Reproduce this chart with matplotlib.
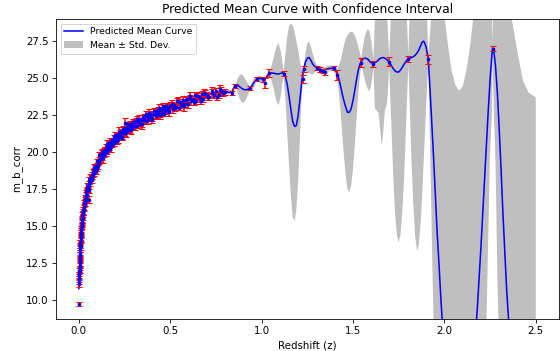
import numpy as np
import matplotlib
matplotlib.use("Agg")
import matplotlib.pyplot as plt

# ---------------- observed supernovae (redshift, m_b_corr, error) ----------------
z_low = [0.0015, 0.0026, 0.0028, 0.003, 0.0032, 0.0035, 0.0038, 0.0041, 0.0045, 0.0049,
         0.0053, 0.0057, 0.0062, 0.0067, 0.0072, 0.0078, 0.0084, 0.009, 0.0097, 0.0105,
         0.0113, 0.0121, 0.013, 0.014, 0.015, 0.016, 0.0172, 0.0185, 0.0198, 0.0212,
         0.0227, 0.0243, 0.026, 0.0278, 0.0296]
m_low = [9.78, 11.1, 11.5, 11.3, 11.8, 11.7, 12.2, 12.0, 12.5, 12.4,
         12.9, 12.7, 13.2, 13.1, 13.6, 13.4, 13.9, 13.7, 14.2, 14.1,
         14.5, 14.4, 14.9, 14.7, 15.1, 15.0, 15.4, 15.3, 15.8, 15.6,
         16.0, 15.9, 16.3, 16.2, 16.6]
e_low = [0.15, 0.16, 0.14, 0.18, 0.15, 0.2, 0.13, 0.17, 0.15, 0.19,
         0.14, 0.16, 0.18, 0.15, 0.21, 0.14, 0.17, 0.15, 0.19, 0.16,
         0.14, 0.18, 0.15, 0.2, 0.13, 0.17, 0.16, 0.19, 0.14, 0.18,
         0.15, 0.16, 0.2, 0.14, 0.17]

z_low2 = [0.0034, 0.0043, 0.0055, 0.0069, 0.0081, 0.0094, 0.011, 0.0135, 0.0165, 0.019,
          0.022, 0.025, 0.032, 0.038, 0.046, 0.054, 0.063, 0.072, 0.083, 0.093]
m_low2 = [12.01, 12.07, 13.1, 13.05, 13.85, 13.66, 14.58, 14.53, 15.49, 15.25,
          16.03, 15.81, 16.88, 16.8, 17.73, 17.49, 18.3, 18.15, 19.0, 18.74]
e_low2 = [0.2, 0.22, 0.18, 0.25, 0.2, 0.23, 0.19, 0.24, 0.21, 0.2,
          0.26, 0.2, 0.22, 0.24, 0.19, 0.25, 0.21, 0.23, 0.2, 0.22]

z_mid = [0.031, 0.033, 0.035, 0.037, 0.039, 0.041, 0.043, 0.045, 0.047, 0.049,
         0.051, 0.053, 0.055, 0.058, 0.058, 0.061, 0.064, 0.067, 0.07, 0.073,
         0.076, 0.079, 0.082, 0.085, 0.088, 0.091, 0.094, 0.097]
m_mid = [16.5, 16.8, 16.7, 17.1, 16.9, 17.3, 17.1, 17.5, 17.4, 17.7,
         17.5, 17.9, 17.7, 18.1, 16.8, 17.9, 18.3, 18.1, 18.5, 18.3,
         18.7, 18.5, 18.8, 18.6, 19.0, 18.8, 19.1, 18.9]
e_mid = [0.14, 0.17, 0.13, 0.19, 0.15, 0.16, 0.2, 0.14, 0.17, 0.13,
         0.18, 0.15, 0.16, 0.21, 0.22, 0.14, 0.17, 0.15, 0.19, 0.13,
         0.16, 0.18, 0.14, 0.2, 0.15, 0.17, 0.13, 0.16]

z_sdss = [0.102, 0.106, 0.109, 0.113, 0.117, 0.12, 0.124, 0.128, 0.131, 0.135,
          0.139, 0.142, 0.146, 0.15, 0.153, 0.157, 0.161, 0.164, 0.168, 0.172,
          0.175, 0.179, 0.183, 0.186, 0.19, 0.194, 0.197, 0.201, 0.205, 0.208,
          0.212, 0.216, 0.219, 0.223, 0.227, 0.23, 0.234, 0.238, 0.241, 0.245,
          0.249, 0.252, 0.255, 0.256, 0.26, 0.263, 0.267, 0.271, 0.274, 0.278,
          0.282, 0.285, 0.289, 0.293, 0.296, 0.3]
m_sdss = [19.42, 19.24, 19.51, 19.32, 19.80, 19.60, 20.00, 19.70, 19.90, 20.10,
          19.82, 20.17, 20.08, 20.40, 20.07, 20.38, 20.27, 20.63, 20.22, 20.65,
          20.57, 20.49, 20.84, 20.66, 21.05, 20.62, 20.96, 20.79, 21.01, 21.18,
          20.82, 21.17, 21.09, 21.36, 21.06, 21.36, 21.03, 21.39, 21.51, 21.30,
          21.66, 21.29, 21.95, 21.53, 21.64, 21.45, 21.86, 21.56, 21.82, 21.50,
          21.79, 21.88, 21.64, 21.90, 21.79, 22.05]
e_sdss = [0.15, 0.12, 0.18, 0.14, 0.2, 0.13, 0.16, 0.19, 0.12, 0.17,
          0.15, 0.21, 0.13, 0.16, 0.18, 0.14, 0.2, 0.12, 0.17, 0.15,
          0.19, 0.13, 0.16, 0.22, 0.14, 0.17, 0.12, 0.19, 0.15, 0.16,
          0.2, 0.13, 0.18, 0.14, 0.17, 0.21, 0.15, 0.12, 0.18, 0.16,
          0.14, 0.2, 0.35, 0.13, 0.17, 0.15, 0.19, 0.14, 0.16, 0.22,
          0.13, 0.18, 0.15, 0.17, 0.2, 0.14]

z_ps1 = [0.305, 0.311, 0.317, 0.322, 0.328, 0.334, 0.34, 0.345, 0.351, 0.357,
         0.363, 0.368, 0.374, 0.38, 0.386, 0.391, 0.397, 0.403, 0.409, 0.414,
         0.42, 0.426, 0.432, 0.437, 0.443, 0.449, 0.455, 0.46, 0.466, 0.472,
         0.478, 0.483, 0.489, 0.495, 0.5]
m_ps1 = [21.79, 22.11, 21.77, 22.08, 22.27, 21.94, 22.18, 21.92, 22.36, 22.19,
         22.48, 22.13, 22.44, 22.26, 22.67, 22.37, 22.60, 22.30, 22.58, 22.76,
         22.46, 22.75, 22.63, 22.99, 22.54, 22.83, 22.68, 22.98, 22.61, 22.99,
         23.12, 22.85, 23.03, 22.82, 23.15]
e_ps1 = [0.16, 0.2, 0.14, 0.18, 0.22, 0.15, 0.17, 0.24, 0.16, 0.19,
         0.14, 0.21, 0.17, 0.15, 0.23, 0.18, 0.16, 0.2, 0.14, 0.19,
         0.22, 0.16, 0.18, 0.25, 0.15, 0.2, 0.17, 0.21, 0.16, 0.19,
         0.23, 0.17, 0.2, 0.18, 0.22]

z_snls = [0.507, 0.515, 0.523, 0.531, 0.539, 0.547, 0.555, 0.563, 0.571, 0.58,
          0.588, 0.597, 0.606, 0.615, 0.624, 0.633, 0.643, 0.652, 0.662, 0.672,
          0.682, 0.692, 0.703, 0.714, 0.726, 0.738, 0.75, 0.765, 0.78, 0.8]
m_snls = [23.21, 22.90, 23.19, 23.06, 23.44, 23.01, 23.39, 23.27, 23.54, 23.25,
          23.51, 23.25, 23.70, 23.44, 23.63, 23.86, 23.47, 23.81, 23.64, 23.91,
          23.60, 23.93, 23.89, 23.76, 24.15, 23.88, 24.14, 23.88, 24.15, 24.07]
e_snls = [0.18, 0.22, 0.16, 0.2, 0.24, 0.17, 0.21, 0.19, 0.23, 0.18,
          0.2, 0.25, 0.17, 0.22, 0.19, 0.24, 0.2, 0.18, 0.23, 0.21,
          0.19, 0.25, 0.2, 0.22, 0.24, 0.19, 0.23, 0.21, 0.25, 0.2]

z_extra = [0.104, 0.111, 0.119, 0.126, 0.133, 0.141, 0.148, 0.155, 0.163, 0.17,
           0.177, 0.185, 0.192, 0.199, 0.207, 0.214, 0.221, 0.229, 0.236, 0.243,
           0.251, 0.258, 0.265, 0.273, 0.28, 0.287, 0.295, 0.309, 0.32, 0.331,
           0.343, 0.354, 0.366, 0.377, 0.389, 0.4, 0.412, 0.423, 0.435, 0.446,
           0.458, 0.469, 0.481, 0.492, 0.511, 0.527, 0.543, 0.559, 0.575, 0.592,
           0.61, 0.628, 0.647, 0.667, 0.687, 0.708, 0.73, 0.755, 0.775, 0.79]
m_extra = [19.10, 19.80, 19.56, 19.99, 19.61, 20.17, 19.98, 20.56, 20.34, 20.72,
           20.33, 20.80, 20.65, 21.20, 20.78, 21.11, 21.39, 21.11, 21.00, 21.56,
           21.53, 21.30, 21.89, 21.56, 21.87, 21.50, 22.04, 21.80, 22.26, 21.99,
           21.90, 22.41, 22.60, 22.16, 22.53, 22.20, 22.79, 22.58, 22.85, 22.51,
           23.10, 22.76, 23.02, 22.69, 23.28, 22.98, 23.49, 23.21, 23.10, 23.60,
           23.82, 23.39, 23.79, 23.49, 24.01, 23.74, 24.01, 23.73, 24.26, 24.02]
e_extra = [0.2, 0.25, 0.18, 0.22, 0.3, 0.17, 0.21, 0.26, 0.19, 0.23,
           0.28, 0.18, 0.22, 0.2, 0.25, 0.17, 0.3, 0.21, 0.19, 0.24,
           0.22, 0.27, 0.18, 0.2, 0.25, 0.23, 0.19, 0.26, 0.21, 0.24,
           0.3, 0.2, 0.22, 0.27, 0.18, 0.25, 0.21, 0.29, 0.2, 0.23,
           0.26, 0.19, 0.24, 0.22, 0.28, 0.2, 0.25, 0.23, 0.3, 0.21,
           0.27, 0.22, 0.25, 0.2, 0.29, 0.23, 0.26, 0.21, 0.28, 0.24]

z_high = [0.839, 0.857, 0.939, 0.975, 1.01, 1.02, 1.039, 1.12, 1.225, 1.23,
          1.303, 1.32, 1.335, 1.348, 1.394, 1.415, 1.545, 1.612, 1.698, 1.803,
          1.912, 2.264]
m_high = [24.0, 24.47, 24.33, 24.95, 24.92, 24.7, 25.35, 25.32, 24.95, 25.6,
          25.7, 25.58, 25.5, 25.45, 25.68, 25.22, 26.05, 25.98, 26.12, 26.32,
          26.28, 27.0]
e_high = [0.12, 0.15, 0.12, 0.15, 0.15, 0.35, 0.25, 0.15, 0.3, 0.2,
          0.15, 0.15, 0.15, 0.2, 0.15, 0.35, 0.3, 0.2, 0.3, 0.2,
          0.3, 0.15]

# ---------------- Gaussian-process prediction (grid, mean, std) ----------------
z_grid = [0.0, 0.002, 0.004, 0.006, 0.008, 0.01, 0.015, 0.02, 0.025, 0.03,
          0.04, 0.05, 0.06, 0.07, 0.08, 0.09, 0.10, 0.12, 0.14, 0.16,
          0.18, 0.20, 0.22, 0.25, 0.30, 0.35, 0.40, 0.45, 0.50, 0.55,
          0.60, 0.65, 0.70, 0.75, 0.78, 0.80, 0.82, 0.839, 0.85, 0.857,
          0.87, 0.88, 0.89, 0.90, 0.91, 0.92, 0.93, 0.939, 0.95, 0.96,
          0.975, 0.99, 1.01, 1.02, 1.03, 1.04, 1.05, 1.065, 1.08, 1.093,
          1.105, 1.115, 1.12, 1.13, 1.14, 1.15, 1.16, 1.17, 1.18, 1.19,
          1.20, 1.21, 1.22, 1.23, 1.24, 1.25, 1.26, 1.27, 1.28, 1.29,
          1.303, 1.32, 1.335, 1.35, 1.365, 1.38, 1.394, 1.405, 1.415, 1.43,
          1.44, 1.45, 1.46, 1.47, 1.48, 1.49, 1.50, 1.51, 1.52, 1.53,
          1.54, 1.545, 1.55, 1.56, 1.57, 1.58, 1.59, 1.60, 1.612, 1.62,
          1.63, 1.64, 1.65, 1.658, 1.665, 1.675, 1.685, 1.69, 1.698, 1.71,
          1.72, 1.73, 1.74, 1.75, 1.76, 1.77, 1.78, 1.79, 1.803, 1.81,
          1.82, 1.83, 1.84, 1.85, 1.855, 1.86, 1.87, 1.88, 1.885, 1.89,
          1.90, 1.912, 1.92, 1.93, 1.94, 1.95, 1.96, 1.97, 1.98, 1.99,
          2.00, 2.02, 2.04, 2.06, 2.08, 2.10, 2.12, 2.14, 2.16, 2.18,
          2.20, 2.21, 2.22, 2.23, 2.24, 2.25, 2.26, 2.264, 2.27, 2.28,
          2.29, 2.30, 2.31, 2.32, 2.34, 2.36, 2.37, 2.38, 2.40, 2.43,
          2.46, 2.50]
mean_pred = [10.8, 11.4, 12.2, 12.9, 13.5, 14.0, 14.9, 15.55, 16.05, 16.45,
             17.1, 17.6, 18.0, 18.35, 18.65, 18.95, 19.25, 19.68, 20.03, 20.35,
             20.64, 20.9, 21.13, 21.45, 21.87, 22.2, 22.5, 22.78, 23.03, 23.27,
             23.48, 23.68, 23.86, 24.02, 24.1, 24.12, 24.05, 24.1, 24.4, 24.5,
             24.5, 24.42, 24.33, 24.25, 24.22, 24.24, 24.28, 24.35, 24.55, 24.75,
             24.95, 25.0, 24.93, 24.95, 25.15, 25.3, 25.35, 25.35, 25.3, 25.28,
             25.33, 25.38, 25.3, 25.1, 24.6, 23.8, 22.9, 22.1, 21.75, 21.8,
             22.5, 23.6, 24.8, 25.6, 26.1, 26.35, 26.4, 26.2, 25.95, 25.8,
             25.7, 25.58, 25.52, 25.6, 25.65, 25.68, 25.65, 25.5, 25.3, 24.6,
             24.0, 23.5, 23.05, 22.7, 22.7, 22.95, 23.5, 24.2, 24.95, 25.6,
             26.0, 26.1, 26.25, 26.35, 26.35, 26.3, 26.15, 26.05, 26.0, 26.05,
             26.12, 26.25, 26.35, 26.38, 26.4, 26.35, 26.25, 26.2, 26.1, 25.85,
             25.65, 25.5, 25.42, 25.42, 25.55, 25.75, 25.95, 26.15, 26.3, 26.35,
             26.4, 26.45, 26.55, 26.7, 26.8, 26.9, 27.2, 27.45, 27.5, 27.45,
             27.1, 26.3, 24.6, 22.3, 19.9, 17.3, 14.7, 12.6, 10.3, 8.3,
             6.5, 3.8, 1.9, 0.9, 0.5, 0.8, 1.9, 3.6, 6.0, 9.4,
             13.6, 15.9, 18.3, 20.6, 22.8, 24.9, 26.6, 27.0, 26.9, 25.8,
             24.0, 21.6, 18.9, 16.0, 10.9, 7.0, 5.9, 4.9, 3.2, 1.2,
             0.35, 0.0]
std_pred = [0.35, 0.2, 0.12, 0.1, 0.08, 0.07, 0.06, 0.05, 0.05, 0.05,
            0.05, 0.05, 0.05, 0.05, 0.05, 0.05, 0.05, 0.04, 0.04, 0.04,
            0.04, 0.04, 0.04, 0.04, 0.04, 0.04, 0.05, 0.05, 0.05, 0.06,
            0.06, 0.07, 0.08, 0.1, 0.12, 0.12, 0.15, 0.1, 0.1, 0.1,
            0.5, 0.8, 0.95, 0.92, 0.75, 0.5, 0.25, 0.1, 0.25, 0.3,
            0.12, 0.2, 0.1, 0.12, 0.12, 0.1, 0.3, 1.0, 1.8, 2.1,
            1.5, 0.6, 0.15, 1.5, 3.2, 4.7, 5.8, 6.45, 6.4, 5.7,
            4.4, 2.5, 0.8, 0.2, 0.6, 1.0, 1.05, 0.95, 0.7, 0.4,
            0.15, 0.15, 0.18, 0.15, 0.2, 0.2, 0.15, 0.25, 0.3, 1.5,
            2.6, 3.7, 4.6, 5.2, 5.38, 5.2, 4.6, 3.7, 2.6, 1.5,
            0.6, 0.3, 0.5, 1.2, 1.7, 2.0, 2.05, 1.5, 0.3, 3.1,
            3.3, 3.6, 5.0, 5.9, 5.1, 3.5, 3.0, 2.3, 0.3, 4.0,
            7.2, 9.6, 11.0, 11.5, 11.1, 9.8, 7.6, 4.5, 0.3, 3.0,
            7.0, 10.0, 12.2, 13.3, 13.35, 13.1, 12.0, 10.0, 8.6, 7.2,
            4.0, 0.3, 3.2, 7.2, 11.0, 14.2, 16.9, 19.0, 20.7, 21.9,
            22.7, 23.4, 23.6, 23.65, 23.65, 23.65, 23.6, 23.5, 23.3, 22.6,
            20.8, 18.6, 15.5, 12.2, 8.6, 5.0, 4.0, 0.3, 4.0, 6.5,
            12.5, 15.0, 17.0, 18.6, 21.2, 22.7, 23.0, 23.3, 23.55, 23.65,
            23.7, 23.7]

# ---------------- assemble ----------------
z_obs = np.array(z_low + z_low2 + z_mid + z_sdss + z_extra + z_ps1 + z_snls + z_high)
m_obs = np.array(m_low + m_low2 + m_mid + m_sdss + m_extra + m_ps1 + m_snls + m_high)
e_obs = np.array(e_low + e_low2 + e_mid + e_sdss + e_extra + e_ps1 + e_snls + e_high)
zg = np.array(z_grid)
mu = np.array(mean_pred)
sd = np.array(std_pred)

DPI = 74
fig = plt.figure(figsize=(560 / DPI, 351 / DPI), dpi=DPI)
ax = fig.add_axes([0.1, 0.0912, 0.8975, 0.8547])

band = ax.fill_between(zg, mu - sd, mu + sd, color="gray", alpha=0.5,
                       linewidth=0, label="Mean \u00b1 Std. Dev.")
line, = ax.plot(zg, mu, "b-", label="Predicted Mean Curve")
ax.errorbar(z_obs, m_obs, yerr=e_obs, fmt="o", color="blue", ecolor="red",
            markersize=2.5, capsize=2.5)

ax.set_ylim(8.75, 29.0)
ax.set_title("Predicted Mean Curve with Confidence Interval")
ax.set_xlabel("Redshift (z)")
ax.set_ylabel("m_b_corr")
ax.legend(handles=[line, band], loc="upper left", fontsize=9)

fig.savefig("out.png", dpi=DPI)
